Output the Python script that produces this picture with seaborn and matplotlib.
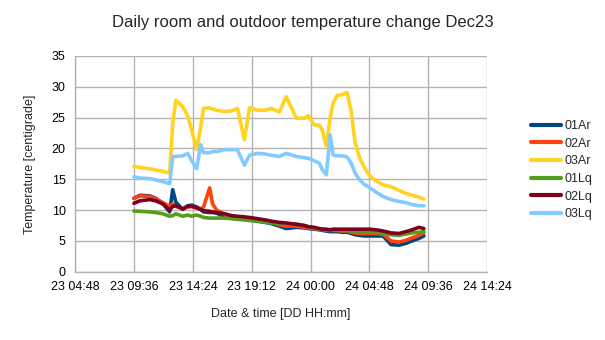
import matplotlib
matplotlib.use("Agg")
import matplotlib.pyplot as plt
import matplotlib.dates as mdates
import seaborn as sns
import pandas as pd
import numpy as np

times = [
    "2023-12-23 09:35", "2023-12-23 10:04", "2023-12-23 10:53", "2023-12-23 11:22", "2023-12-23 11:56",
    "2023-12-23 12:30", "2023-12-23 12:45", "2023-12-23 13:00", "2023-12-23 13:34", "2023-12-23 13:58",
    "2023-12-23 14:18", "2023-12-23 14:42", "2023-12-23 15:02", "2023-12-23 15:16", "2023-12-23 15:46",
    "2023-12-23 16:00", "2023-12-23 16:20", "2023-12-23 16:59", "2023-12-23 17:33", "2023-12-23 18:02",
    "2023-12-23 18:36", "2023-12-23 19:01", "2023-12-23 19:40", "2023-12-23 20:19", "2023-12-23 20:48",
    "2023-12-23 21:27", "2023-12-23 22:01", "2023-12-23 22:50", "2023-12-23 23:29", "2023-12-23 23:49",
    "2023-12-24 00:18", "2023-12-24 00:43", "2023-12-24 00:57", "2023-12-24 01:17", "2023-12-24 01:36",
    "2023-12-24 01:51", "2023-12-24 02:10", "2023-12-24 02:35", "2023-12-24 02:59", "2023-12-24 03:19",
    "2023-12-24 03:38", "2023-12-24 03:58", "2023-12-24 04:22", "2023-12-24 04:47", "2023-12-24 05:21",
    "2023-12-24 05:55", "2023-12-24 06:34", "2023-12-24 07:13", "2023-12-24 07:47", "2023-12-24 08:17",
    "2023-12-24 08:51", "2023-12-24 09:15",
]

s01Ar = [11.9, 12.4, 12.3, 11.9, 11.1, 9.7, 13.3, 11.3, 10.1, 10.7,
         10.8, 10.5, 10.1, 9.7, 9.6, 9.6, 9.5, 8.9, 8.7, 8.6,
         8.5, 8.4, 8.2, 8.0, 7.8, 7.4, 7.0, 7.2, 7.1, 7.0,
         6.9, 6.8, 6.7, 6.6, 6.5, 6.5, 6.5, 6.4, 6.4, 6.2,
         6.0, 5.9, 5.8, 5.8, 5.8, 5.8, 4.4, 4.3, 4.6, 5.0,
         5.4, 5.8]
s02Ar = [11.9, 12.3, 12.2, 11.8, 11.2, 10.6, 11.0, 10.6, 10.2, 10.5,
         10.6, 10.3, 10.2, 10.5, 13.6, 11.0, 10.0, 9.3, 8.9, 8.8,
         8.7, 8.6, 8.4, 8.2, 8.0, 7.6, 7.4, 7.4, 7.2, 7.1,
         7.0, 6.9, 6.8, 6.8, 6.7, 6.7, 6.7, 6.6, 6.6, 6.4,
         6.3, 6.2, 6.2, 6.2, 6.2, 6.1, 5.0, 4.8, 5.1, 5.5,
         5.9, 6.3]
s03Ar = [17.1, 16.9, 16.7, 16.5, 16.3, 16.0, 24.0, 27.8, 26.8, 25.3,
         23.0, 19.8, 23.5, 26.5, 26.6, 26.4, 26.2, 26.0, 26.1, 26.5,
         21.4, 26.6, 26.2, 26.2, 26.5, 25.9, 28.4, 24.9, 24.9, 25.3,
         23.8, 23.8, 23.0, 20.4, 25.0, 27.4, 28.6, 28.7, 29.1, 26.0,
         21.0, 18.7, 17.0, 15.7, 14.7, 14.1, 13.8, 13.2, 12.7, 12.4,
         12.1, 11.8]
s01Lq = [9.85, 9.8, 9.7, 9.6, 9.4, 9.0, 9.1, 9.4, 9.0, 9.2,
         9.0, 9.2, 9.0, 8.8, 8.7, 8.7, 8.7, 8.7, 8.6, 8.5,
         8.4, 8.3, 8.2, 8.0, 7.9, 7.8, 7.8, 7.7, 7.5, 7.3,
         7.1, 6.9, 6.9, 6.8, 6.8, 6.8, 6.7, 6.7, 6.7, 6.6,
         6.6, 6.5, 6.5, 6.5, 6.4, 6.2, 6.0, 5.9, 6.1, 6.3,
         6.4, 6.5]
s02Lq = [11.1, 11.5, 11.7, 11.5, 11.0, 10.0, 10.6, 10.7, 10.2, 10.6,
         10.6, 10.4, 10.1, 9.9, 9.8, 9.7, 9.6, 9.4, 9.1, 9.0,
         8.9, 8.8, 8.6, 8.4, 8.2, 8.0, 7.9, 7.7, 7.5, 7.3,
         7.2, 7.0, 6.9, 6.9, 6.8, 6.9, 6.9, 6.9, 6.9, 6.9,
         6.9, 6.9, 6.9, 6.9, 6.8, 6.6, 6.3, 6.2, 6.5, 6.8,
         7.2, 7.0]
s03Lq = [15.4, 15.2, 15.1, 14.9, 14.6, 14.3, 18.7, 18.7, 18.8, 19.2,
         18.0, 16.7, 20.6, 19.3, 19.3, 19.5, 19.5, 19.8, 19.8, 19.8,
         17.3, 18.9, 19.2, 19.1, 18.9, 18.7, 19.2, 18.7, 18.5, 18.4,
         18.0, 17.6, 16.6, 15.7, 22.2, 18.9, 18.8, 18.8, 18.6, 17.6,
         16.0, 15.0, 14.2, 13.7, 12.9, 12.2, 11.7, 11.4, 11.2, 10.9,
         10.7, 10.7]

series_names = ["01Ar", "02Ar", "03Ar", "01Lq", "02Lq", "03Lq"]
series_values = [s01Ar, s02Ar, s03Ar, s01Lq, s02Lq, s03Lq]
colors = ["#004586", "#ff420e", "#ffd320", "#579d1c", "#7e0021", "#83caff"]

t = pd.to_datetime(times)
df = pd.concat([pd.DataFrame({"time": t, "temp": v, "series": n})
                for n, v in zip(series_names, series_values)], ignore_index=True)

sns.set_style("white")
plt.rcParams["font.family"] = ["Liberation Sans", "DejaVu Sans"]

fig = plt.figure(figsize=(6.05, 3.4), dpi=100)
ax = fig.add_axes([75.3 / 605, 1 - 271.7 / 340, (487 - 75.3) / 605, (271.7 - 56) / 340])

grid_c = "#b3b3b3"
sns.lineplot(data=df, x="time", y="temp", hue="series", hue_order=series_names,
             palette=dict(zip(series_names, colors)), linewidth=2.6, ax=ax,
             legend=False, zorder=3)

start = pd.Timestamp("2023-12-23 04:48")
ticks = [start + pd.Timedelta(minutes=288 * k) for k in range(8)]
ax.set_xlim(ticks[0], ticks[-1])
ax.set_xticks(ticks)
ax.xaxis.set_major_formatter(mdates.DateFormatter("%d %H:%M"))
ax.set_ylim(0, 35)
ax.set_yticks(range(0, 36, 5))

ax.grid(True, color=grid_c, linewidth=1.0, zorder=0)
for s in ["top", "right"]:
    ax.spines[s].set_visible(False)
for s in ["left", "bottom"]:
    ax.spines[s].set_color(grid_c)
    ax.spines[s].set_linewidth(1.0)
ax.tick_params(axis="both", direction="out", length=5, width=1, color=grid_c,
               labelsize=9, labelcolor="#000000", pad=2)
ax.set_xlabel("")
ax.set_ylabel("")

fig.text(0.5, 1 - 22 / 340, "Daily room and outdoor temperature change Dec23",
         ha="center", va="center", fontsize=12)
fig.text(281 / 605, 1 - 314 / 340, "Date & time [DD HH:mm]", ha="center", va="center", fontsize=9)
fig.text(30 / 605, 1 - 164 / 340, "Temperature [centigrade]", ha="center", va="center",
         rotation=90, fontsize=9)

handles = [plt.Line2D([], [], color=c, linewidth=3) for c in colors]
fig.legend(handles, series_names, loc="upper left", bbox_to_anchor=(531 / 605, 1 - 120 / 340),
           frameon=False, fontsize=9, handlelength=2.4, handletextpad=0.3, labelspacing=0.45,
           borderaxespad=0, borderpad=0)

fig.savefig("out.png", dpi=100)
